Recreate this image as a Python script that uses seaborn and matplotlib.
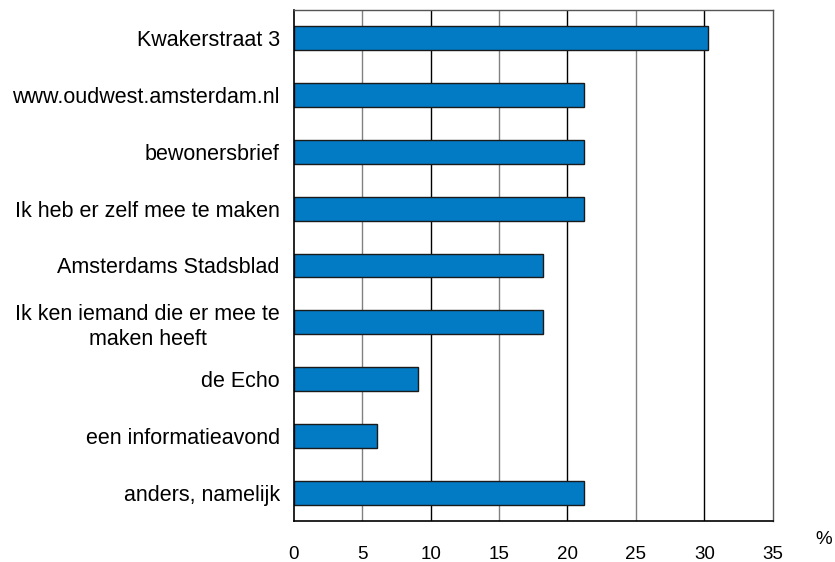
import matplotlib
matplotlib.use("Agg")
import matplotlib.pyplot as plt
import seaborn as sns
import pandas as pd

categories = [
    "Kwakerstraat 3",
    "www.oudwest.amsterdam.nl",
    "bewonersbrief",
    "Ik heb er zelf mee te maken",
    "Amsterdams Stadsblad",
    "Ik ken iemand die er mee te\nmaken heeft",
    "de Echo",
    "een informatieavond",
    "anders, namelijk",
]
values = [30.3, 21.2, 21.2, 21.2, 18.2, 18.2, 9.1, 6.1, 21.2]
xticks = [0, 5, 10, 15, 20, 25, 30, 35]

sns.set_theme(style="white")
plt.rcParams['font.family'] = ['Liberation Sans', 'DejaVu Sans']
plt.rcParams['text.color'] = 'black'
plt.rcParams['xtick.color'] = 'black'
plt.rcParams['ytick.color'] = 'black'

df = pd.DataFrame({"cat": categories, "val": values})

fig = plt.figure(figsize=(8.35, 5.62), dpi=100)
ax = fig.add_axes([0.3518, 0.0730, 0.9254 - 0.3518, 0.9822 - 0.0730])

for t in xticks[1:-1]:
    ax.axvline(t, color="black" if t % 10 == 0 else "#808080", lw=1.0, zorder=0)

sns.barplot(data=df, x="val", y="cat", orient="h", color="#027BC4", saturation=1,
            width=0.42, edgecolor="#1a1a1a", linewidth=1.0, ax=ax, zorder=2)

ax.set_xlim(0, 35)
ax.set_ylim(8.5, -0.5)
ax.set_xticks(xticks)
ax.set_xticklabels([str(t) for t in xticks], fontsize=13.5, color="black")
ax.set_xlabel("")
ax.set_ylabel("")
ax.tick_params(axis="x", length=0, pad=18, labelcolor="black")
ax.tick_params(axis="y", length=0, pad=10, labelsize=15.5, labelcolor="black")
for lbl in ax.get_yticklabels():
    lbl.set_multialignment("center")
    lbl.set_linespacing(1.25)

for side in ["left", "bottom"]:
    ax.spines[side].set_color("black")
    ax.spines[side].set_linewidth(1.2)
for side in ["top", "right"]:
    ax.spines[side].set_color("#555555")
    ax.spines[side].set_linewidth(1.0)

fig.text(815 / 835, 1 - 540 / 562, "%", fontsize=13.5, ha="left", va="center", color="black")

fig.savefig("out.png", dpi=100)
